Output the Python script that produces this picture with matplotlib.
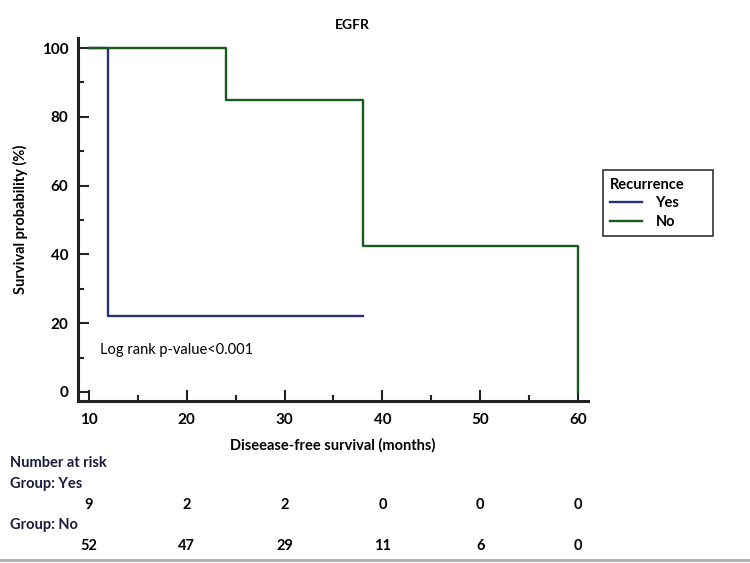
import matplotlib.pyplot as plt
from matplotlib.ticker import MultipleLocator
from matplotlib.transforms import blended_transform_factory

plt.rcParams['font.family'] = ['Lato', 'DejaVu Sans']

# Kaplan-Meier steps
yes_t = [10, 12, 12, 38]
yes_s = [100, 100, 22.2, 22.2]
no_t = [10, 24, 24, 38, 38, 60, 60]
no_s = [100, 100, 85, 85, 42.5, 42.5, 0]

risk_times = [10, 20, 30, 40, 50, 60]
risk_yes = [9, 2, 2, 0, 0, 0]
risk_no = [52, 47, 29, 11, 6, 0]

c_yes = '#2b2f7e'
c_no = '#1d5a1d'

fig = plt.figure(figsize=(7.5, 5.63), dpi=100)
ax = fig.add_axes([0.104, 0.288, 0.68, 0.645])

ax.plot(yes_t, yes_s, color=c_yes, lw=1.7, label='Yes')
ax.plot(no_t, no_s, color=c_no, lw=1.7, label='No')

ax.set_xlim(8.9, 61)
ax.set_ylim(-2.6, 103)
ax.xaxis.set_major_locator(MultipleLocator(10))
ax.xaxis.set_minor_locator(MultipleLocator(5))
ax.yaxis.set_major_locator(MultipleLocator(20))
ax.yaxis.set_minor_locator(MultipleLocator(10))
ax.tick_params(which='both', direction='in', width=1.5, color='#222222')
ax.tick_params(which='major', length=8, labelsize=11)
ax.tick_params(axis='x', pad=9)
ax.tick_params(axis='y', pad=7)
ax.tick_params(which='minor', length=4)
for lab in ax.get_xticklabels() + ax.get_yticklabels():
    lab.set_fontweight('bold')
for s in ['top', 'right']:
    ax.spines[s].set_visible(False)
for s in ['left', 'bottom']:
    ax.spines[s].set_linewidth(2.2)
    ax.spines[s].set_color('#222222')

ax.set_xlabel('Diseease-free survival (months)', fontsize=10.5, fontweight='bold', labelpad=8)
ax.set_ylabel('Survival probability (%)', fontsize=10.5, fontweight='bold', labelpad=10)
fig.text(0.47, 0.955, 'EGFR', ha='center', va='center', fontsize=10, fontweight='bold')

ax.text(11.1, 12.2, 'Log rank p-value<0.001', fontsize=10.5, va='center', ha='left')

# legend stretched to the wider box of the reference
leg = ax.legend(title='Recurrence', loc='upper left', bbox_to_anchor=(1.015, 0.455, 0.245, 0.2),
                mode='expand', frameon=True, fancybox=False, edgecolor='black', fontsize=10.5,
                title_fontproperties={'weight': 'bold', 'size': 10.5}, handlelength=2.2,
                handletextpad=0.9, borderpad=0.5, labelspacing=0.32)
leg._legend_box.align = 'left'
leg.get_frame().set_linewidth(1.2)
for t in leg.get_texts():
    t.set_fontweight('bold')

# number at risk table
tr = blended_transform_factory(ax.transData, fig.transFigure)
fig.text(0.013, 1 - 463 / 563, 'Number at risk', fontsize=10.5, fontweight='bold', va='center', color='#1a1a3a')
fig.text(0.013, 1 - 484 / 563, 'Group: Yes', fontsize=10.5, fontweight='bold', va='center', color='#1a1a3a')
fig.text(0.013, 1 - 525 / 563, 'Group: No', fontsize=10.5, fontweight='bold', va='center', color='#1a1a3a')
for t, a, b in zip(risk_times, risk_yes, risk_no):
    ax.text(t, 1 - 505 / 563, str(a), transform=tr, ha='center', va='center', fontsize=10.5, fontweight='bold')
    ax.text(t, 1 - 546 / 563, str(b), transform=tr, ha='center', va='center', fontsize=10.5, fontweight='bold')

fig.add_artist(plt.Line2D([0, 1], [1 - 560 / 563, 1 - 560 / 563], transform=fig.transFigure,
                          color='#aaaaaa', lw=2))

fig.savefig('out.png', dpi=100)
